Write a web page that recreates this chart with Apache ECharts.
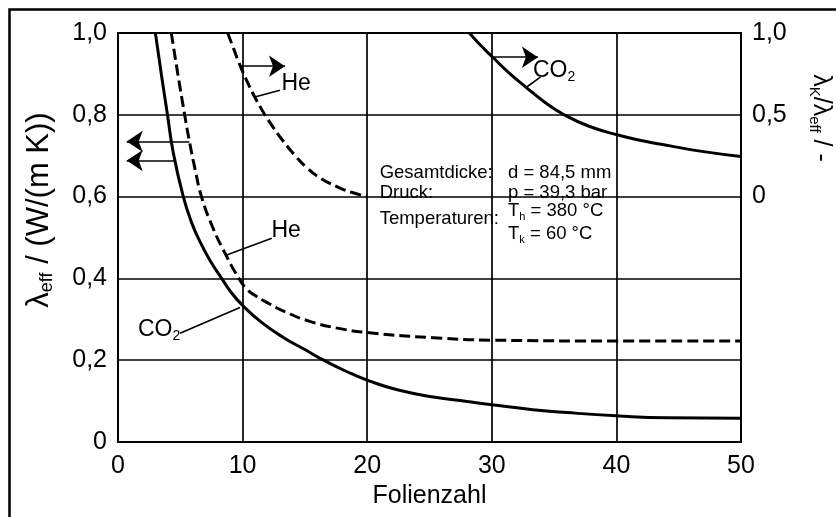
<!DOCTYPE html>
<html>
<head>
<meta charset="utf-8">
<script src="https://cdn.jsdelivr.net/npm/echarts@6/dist/echarts.min.js"></script>
<style>
  html, body { margin: 0; padding: 0; background: #fff; }
  #chart { width: 836px; height: 517px; }
</style>
</head>
<body>
<div id="chart"></div>
<script>
// Effective conductivity of a multi-foil insulation vs. number of foils (He and CO2 fill)

// lambda_eff, CO2 fill (left axis)
const co2EffFolien = [3.0, 3.5, 3.97, 4.45, 5.24, 5.9, 6.58, 7.4, 8.32, 9.1, 10, 11.5, 13.3, 15, 16.5, 18.3, 20.2, 22.5, 25.3, 28, 30, 33.3, 36, 40, 44, 50];
const co2EffLambda = [1.0, 0.895, 0.80, 0.705, 0.60, 0.537, 0.49, 0.443, 0.40, 0.365, 0.334, 0.293, 0.255, 0.226, 0.20, 0.173, 0.149, 0.127, 0.11, 0.099, 0.091, 0.079, 0.072, 0.064, 0.059, 0.058];

// lambda_eff, He fill (left axis)
const heEffFolien = [4.28, 4.8, 5.35, 5.7, 6.2, 6.7, 7.6, 8.7, 9.7, 10.3, 11, 11.9, 13.5, 15.4, 17.5, 20.2, 25.3, 30, 40, 50];
const heEffLambda = [1.0, 0.9, 0.8, 0.74, 0.665, 0.60, 0.525, 0.455, 0.40, 0.375, 0.358, 0.342, 0.317, 0.295, 0.279, 0.267, 0.255, 0.249, 0.247, 0.247];

// lambda_K / lambda_eff, He fill (right axis)
const heRatioFolien = [8.8, 9.3, 9.7, 10.2, 10.8, 11.4, 11.8, 12.5, 13.3, 14.2, 15.1, 16.3, 17.6, 18.8, 20];
const heRatioValue = [1.0, 0.9, 0.82, 0.73, 0.635, 0.55, 0.5, 0.418, 0.335, 0.252, 0.18, 0.11, 0.06, 0.025, 0.0];

// lambda_K / lambda_eff, CO2 fill (right axis)
const co2RatioFolien = [28.2, 29.1, 30.1, 31.4, 32.8, 34.2, 35.7, 37.8, 40.2, 42.2, 44.3, 47, 50];
const co2RatioValue = [1.0, 0.925, 0.85, 0.755, 0.665, 0.58, 0.505, 0.43, 0.375, 0.34, 0.31, 0.275, 0.245];

// parameter box
const infoLabels = ['Gesamtdicke:', 'Druck:', 'Temperaturen:'];
const infoValues = ['d = 84,5 mm', 'p = 39,3 bar', '{m|T}{s|h}{m| = 380 °C}', '{m|T}{s|k}{m| = 60 °C}'];

const FONT = '"Liberation Sans", Arial, Helvetica, sans-serif';
const zip = (xs, ys) => xs.map((x, i) => [x, ys[i]]);
const comma = v => (v === 0 ? '0' : v.toFixed(1).replace('.', ','));

const chart = echarts.init(document.getElementById('chart'), null, { renderer: 'canvas' });

const arrowEnd = (from, to) => [
  { coord: from, symbol: 'none' },
  { coord: to, symbol: 'arrow', symbolSize: 16 }
];
const leader = (from, to) => [
  { coord: from, symbol: 'none' },
  { coord: to, symbol: 'none' }
];
const markStyle = { color: '#000', width: 1.6, type: 'solid' };

const baseLine = {
  type: 'line',
  showSymbol: false,
  smooth: 0.5,
  silent: true,
  animation: false,
  clip: true
};

chart.setOption({
  animation: false,
  backgroundColor: '#fff',
  grid: {
    left: 118, right: 95, top: 33, bottom: 75,
    show: true, borderColor: '#000', borderWidth: 2, backgroundColor: 'transparent'
  },
  xAxis: {
    type: 'value', min: 0, max: 50, interval: 10,
    name: 'Folienzahl', nameLocation: 'middle', nameGap: 42,
    nameTextStyle: { fontFamily: FONT, fontSize: 25, color: '#000' },
    axisLine: { show: false }, axisTick: { show: false },
    axisLabel: { fontFamily: FONT, fontSize: 25, color: '#000', margin: 12 },
    splitLine: { show: true, lineStyle: { color: '#000', width: 1.7 } }
  },
  yAxis: [
    {
      type: 'value', min: 0, max: 1, interval: 0.2,
      axisLine: { show: false }, axisTick: { show: false },
      axisLabel: { fontFamily: FONT, fontSize: 25, color: '#000', margin: 11, formatter: comma },
      splitLine: { show: true, lineStyle: { color: '#000', width: 1.7 } }
    },
    {
      type: 'value', min: -1.5, max: 1, interval: 0.5, position: 'right',
      axisLine: { show: false }, axisTick: { show: false },
      axisLabel: {
        fontFamily: FONT, fontSize: 25, color: '#000', margin: 11,
        formatter: v => (v < 0 ? '' : comma(v))
      },
      splitLine: { show: false }
    }
  ],
  series: [
    Object.assign({}, baseLine, {
      name: 'CO2 lambda_eff', yAxisIndex: 0,
      data: zip(co2EffFolien, co2EffLambda),
      lineStyle: { color: '#000', width: 3, type: 'solid' },
      markLine: {
        silent: true, animation: false, label: { show: false },
        lineStyle: markStyle,
        data: [
          arrowEnd([4.5, 0.688], [0.7, 0.688]),
          leader([9.79, 0.329], [4.98, 0.266])
        ]
      }
    }),
    Object.assign({}, baseLine, {
      name: 'He lambda_eff', yAxisIndex: 0,
      data: zip(heEffFolien, heEffLambda),
      lineStyle: { color: '#000', width: 3, type: [11, 5] },
      markLine: {
        silent: true, animation: false, label: { show: false },
        lineStyle: markStyle,
        data: [
          arrowEnd([5.73, 0.735], [0.7, 0.735]),
          leader([8.72, 0.457], [12.34, 0.498])
        ]
      }
    }),
    Object.assign({}, baseLine, {
      name: 'He ratio', yAxisIndex: 1,
      data: zip(heRatioFolien, heRatioValue),
      lineStyle: { color: '#000', width: 3, type: [11, 5] },
      markLine: {
        silent: true, animation: false, label: { show: false },
        lineStyle: markStyle,
        data: [
          arrowEnd([9.85, 0.797], [13.4, 0.797]),
          leader([11.05, 0.61], [13.0, 0.65])
        ]
      }
    }),
    Object.assign({}, baseLine, {
      name: 'CO2 ratio', yAxisIndex: 1,
      data: zip(co2RatioFolien, co2RatioValue),
      lineStyle: { color: '#000', width: 3, type: 'solid' },
      markLine: {
        silent: true, animation: false, label: { show: false },
        lineStyle: markStyle,
        data: [
          arrowEnd([30.1, 0.852], [33.7, 0.852]),
          leader([32.8, 0.67], [33.9, 0.73])
        ]
      }
    })
  ]
});

// text annotations placed in data coordinates
const leftPx = p => chart.convertToPixel({ xAxisIndex: 0, yAxisIndex: 0 }, p);
const rightPx = p => chart.convertToPixel({ xAxisIndex: 0, yAxisIndex: 1 }, p);

const richSub = (size, subSize) => ({
  m: { fontFamily: FONT, fontSize: size, fill: '#000', lineHeight: size + 4, verticalAlign: 'middle' },
  s: { fontFamily: FONT, fontSize: subSize, fill: '#000', lineHeight: subSize - 2, verticalAlign: 'bottom' }
});

function label(pos, text, size, align) {
  return {
    type: 'text', x: pos[0], y: pos[1], silent: true, z: 100,
    style: {
      text: text, rich: richSub(size, Math.round(size * 0.6)),
      align: align || 'center', verticalAlign: 'middle', fill: '#000'
    }
  };
}

const graphics = [];
// curve labels
graphics.push(label(rightPx([14.3, 0.69]), '{m|He}', 23));
graphics.push(label(rightPx([35.0, 0.77]), '{m|CO}{s|2}', 23));
graphics.push(label(leftPx([13.5, 0.516]), '{m|He}', 23));
graphics.push(label(leftPx([3.3, 0.274]), '{m|CO}{s|2}', 23));

// parameter box
const infoRows = [0.659, 0.61, 0.545];
infoLabels.forEach((t, i) => {
  graphics.push(label(leftPx([21.0, infoRows[i]]), '{m|' + t + '}', 18.5, 'left'));
});
const valueRows = [0.659, 0.61, 0.564, 0.509];
infoValues.forEach((t, i) => {
  const txt = t.indexOf('{') === 0 ? t : '{m|' + t + '}';
  graphics.push(label(leftPx([31.3, valueRows[i]]), txt, 18.5, 'left'));
});

// axis titles
graphics.push({
  type: 'text', x: 39, y: 210, rotation: Math.PI / 2, silent: true,
  style: {
    text: '{m|λ}{s|eff}{m| / (W/(m K))}', rich: richSub(31, 18),
    align: 'center', verticalAlign: 'middle'
  }
});
graphics.push({
  type: 'text', x: 821, y: 118, rotation: -Math.PI / 2, silent: true,
  style: {
    text: '{m|λ}{s|K}{m|/λ}{s|eff}{m| / -}', rich: richSub(25, 15),
    align: 'center', verticalAlign: 'middle'
  }
});

// outer frame (left and top edges)
graphics.push({
  type: 'polyline', silent: true,
  shape: { points: [[9.5, 517], [9.5, 9.5], [836, 9.5]] },
  style: { stroke: '#000', lineWidth: 2.5, fill: null }
});

chart.setOption({ graphic: graphics });
</script>
</body>
</html>
